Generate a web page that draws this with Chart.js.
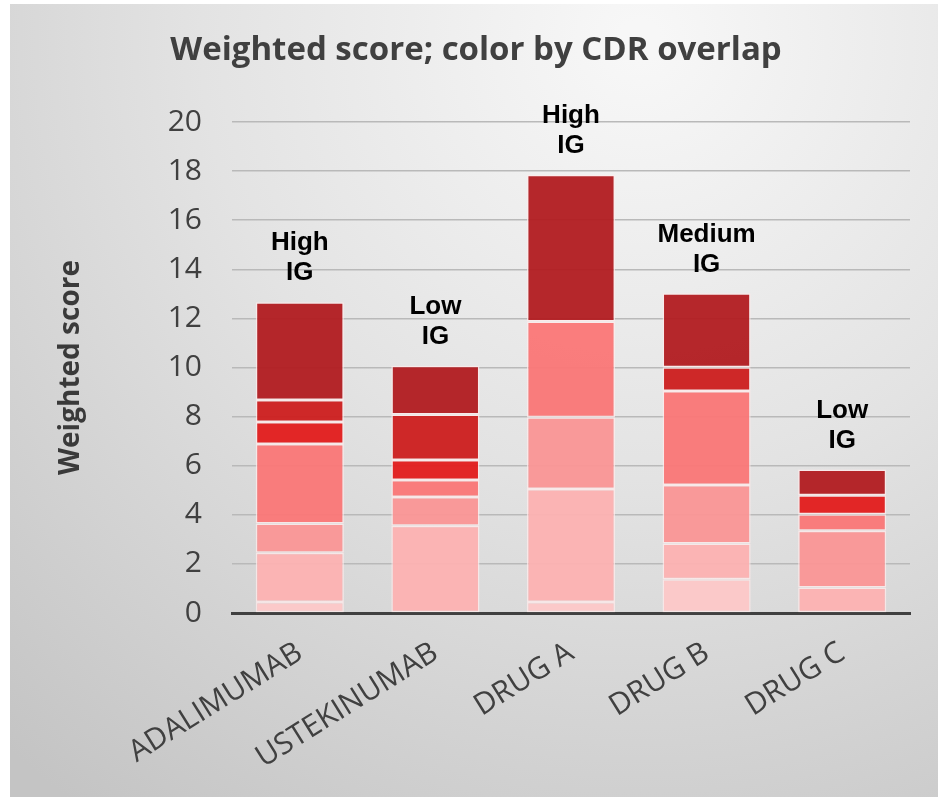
<!DOCTYPE html>
<html>
<head>
<meta charset="utf-8">
<script src="https://cdn.jsdelivr.net/npm/chart.js@4/dist/chart.umd.min.js"></script>
<style>
  html, body { margin: 0; padding: 0; background: #ffffff; }
  #wrap { width: 948px; height: 797px; position: relative; }
</style>
</head>
<body>
<div id="wrap"><canvas id="c" width="948" height="797"></canvas></div>
<script>
// ---- data ----
const categories = ['ADALIMUMAB', 'USTEKINUMAB', 'DRUG A', 'DRUG B', 'DRUG C'];
const igLevels = ['High', 'Low', 'High', 'Medium', 'Low'];
const tierVeryLight = [0.45, 0, 0.45, 1.37, 0];
const tierLight     = [2.00, 3.55, 4.60, 1.46, 1.04];
const tierMedium    = [1.20, 1.18, 2.92, 2.38, 2.31];
const tierSalmon    = [3.23, 0.69, 3.90, 3.83, 0.67];
const tierBright    = [0.90, 0.81, 0, 0, 0.78];
const tierRed       = [0.90, 1.86, 0, 0.97, 0];
const tierDark      = [3.98, 1.98, 5.98, 3.01, 1.05];
const yTicks = [0, 2, 4, 6, 8, 10, 12, 14, 16, 18, 20];

const tiers = [
  { name: 'tier 1', data: tierVeryLight, color: 'rgba(252,200,200,0.96)' },
  { name: 'tier 2', data: tierLight,     color: 'rgba(252,178,178,0.96)' },
  { name: 'tier 3', data: tierMedium,    color: 'rgba(250,150,150,0.96)' },
  { name: 'tier 4', data: tierSalmon,    color: 'rgba(250,120,120,0.96)' },
  { name: 'tier 5', data: tierBright,    color: 'rgba(226,30,30,0.96)' },
  { name: 'tier 6', data: tierRed,       color: 'rgba(205,32,32,0.96)' },
  { name: 'tier 7', data: tierDark,      color: 'rgba(178,30,34,0.96)' }
];

const bgPlugin = {
  id: 'bg',
  beforeDraw(chart) {
    const ctx = chart.ctx;
    ctx.save();
    ctx.fillStyle = '#ffffff';
    ctx.fillRect(0, 0, chart.width, chart.height);
    const g = ctx.createRadialGradient(640, 40, 20, 640, 40, 950);
    g.addColorStop(0, '#f7f7f7');
    g.addColorStop(0.45, '#e3e3e3');
    g.addColorStop(1, '#c4c4c4');
    ctx.fillStyle = g;
    ctx.fillRect(10, 4, 928, 793);
    ctx.restore();
  }
};

const textPlugin = {
  id: 'texts',
  afterDraw(chart) {
    const ctx = chart.ctx;
    ctx.save();
    // title
    ctx.fillStyle = '#404040';
    ctx.font = 'bold 33px "Open Sans"';
    ctx.textAlign = 'center';
    ctx.textBaseline = 'middle';
    ctx.fillText('Weighted score; color by CDR overlap', 476, 51);
    // IG labels above bars
    const meta = chart.getDatasetMeta(0);
    const y = chart.scales.y;
    ctx.fillStyle = '#000000';
    ctx.font = 'bold 26px "Liberation Sans", Arial';
    categories.forEach((c, i) => {
      let total = 0;
      tiers.forEach(t => { total += t.data[i]; });
      const x = meta.data[i].x;
      const top = y.getPixelForValue(total);
      ctx.fillText('IG', x, top - 29);
      ctx.fillText(igLevels[i], x, top - 59);
    });
    ctx.restore();
  }
};

new Chart(document.getElementById('c'), {
  type: 'bar',
  data: {
    labels: categories,
    datasets: tiers.map(t => ({
      label: t.name,
      data: t.data.map(v => v === 0 ? null : v),
      backgroundColor: t.color,
      borderColor: 'rgba(255,235,235,0.75)',
      borderWidth: 1.5,
      borderSkipped: false,
      barPercentage: 0.65,
      categoryPercentage: 1.0
    }))
  },
  options: {
    responsive: true,
    maintainAspectRatio: false,
    animation: false,
    layout: { padding: { left: 10, right: 38, top: 122, bottom: 0 } },
    plugins: {
      legend: { display: false },
      title: { display: false },
      tooltip: { enabled: false }
    },
    scales: {
      x: {
        stacked: true,
        grid: { display: false, drawTicks: false },
        border: { display: true, color: '#404040', width: 3 },
        ticks: {
          color: '#404040',
          font: { family: '"Open Sans"', size: 30 },
          minRotation: 32,
          maxRotation: 32,
          padding: 22,
          autoSkip: false
        },
        afterFit(scale) { scale.height = 184; }
      },
      y: {
        stacked: true,
        min: 0,
        max: 20,
        afterBuildTicks(scale) { scale.ticks = yTicks.map(v => ({ value: v })); },
        grid: { color: '#b9b9b9', lineWidth: 1.5, drawTicks: false },
        border: { display: false },
        ticks: {
          color: '#404040',
          font: { family: '"Open Sans"', size: 30 },
          padding: 30
        },
        title: {
          display: true,
          text: 'Weighted score',
          color: '#3a3a3a',
          font: { family: '"Open Sans"', size: 28, weight: 'bold' },
          padding: { top: 44, bottom: 0 }
        },
        afterFit(scale) { scale.width = 222; }
      }
    }
  },
  plugins: [bgPlugin, textPlugin]
});
</script>
</body>
</html>
